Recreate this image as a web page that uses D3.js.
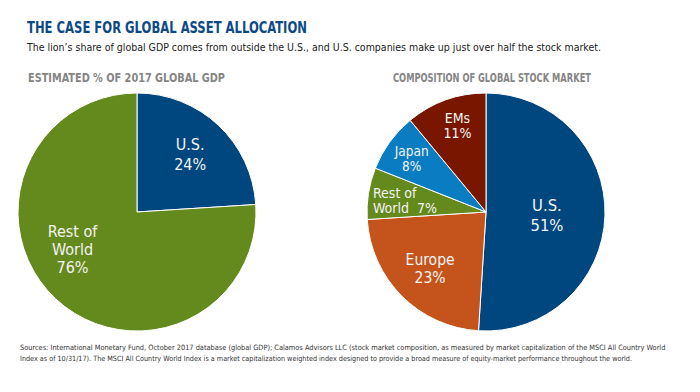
<!DOCTYPE html>
<html><head><meta charset="utf-8">
<script src="https://cdn.jsdelivr.net/npm/d3@7"></script>
<style>
body{margin:0;background:#fff;}
svg{display:block;}
</style></head>
<body><svg id="c" width="700" height="392"></svg>
<script>
const gdpCategories = ["U.S.", "Rest of World"];
const gdpValues = [24, 76];
const gdpLabels = [["U.S.", "24%"], ["Rest of", "World", "76%"]];

const stockCategories = ["U.S.", "Europe", "Rest of World", "Japan", "EMs"];
const stockValues = [51, 23, 7, 8, 11];
const stockLabels = [["U.S.", "51%"], ["Europe", "23%"], ["Rest of", "World  7%"], ["Japan", "8%"], ["EMs", "11%"]];

const colorMap = {
  "U.S.": "#00467f",
  "Rest of World": "#64891c",
  "Europe": "#c4541b",
  "Japan": "#0a7dc2",
  "EMs": "#791600"
};

const svg = d3.select("#c");
const cond = "'Liberation Sans Narrow','DejaVu Sans Condensed',sans-serif";

// fit a text to a target width by scaling its font size
function fitText(sel, target) {
  const n = sel.node();
  const fs = parseFloat(sel.attr("font-size"));
  const w = n.getComputedTextLength();
  if (w > 0) sel.attr("font-size", (fs * target / w).toFixed(2));
  return sel;
}

svg.append("text").attr("x", 27).attr("y", 33)
  .attr("font-family", cond).attr("font-weight", "bold").attr("font-size", 16.5)
  .attr("fill", "#0d4a85").attr("textLength", 280).attr("lengthAdjust", "spacingAndGlyphs")
  .text("THE CASE FOR GLOBAL ASSET ALLOCATION");

fitText(svg.append("text").attr("x", 27).attr("y", 51)
  .attr("font-family", cond).attr("font-size", 13)
  .attr("fill", "#222")
  .text("The lion\u2019s share of global GDP comes from outside the U.S., and U.S. companies make up just over half the stock market."), 574);

svg.append("text").attr("x", 28).attr("y", 82)
  .attr("font-family", cond).attr("font-weight", "bold").attr("font-size", 13)
  .attr("fill", "#858585").attr("textLength", 197).attr("lengthAdjust", "spacingAndGlyphs")
  .text("ESTIMATED % OF 2017 GLOBAL GDP");

svg.append("text").attr("x", 393).attr("y", 82)
  .attr("font-family", cond).attr("font-weight", "bold").attr("font-size", 13)
  .attr("fill", "#858585").attr("textLength", 198).attr("lengthAdjust", "spacingAndGlyphs")
  .text("COMPOSITION OF GLOBAL STOCK MARKET");

const foot1 = "Sources: International Monetary Fund, October 2017 database (global GDP); Calamos Advisors LLC (stock market composition, as measured by market capitalization of the MSCI All Country World";
const foot2 = "Index as of 10/31/17). The MSCI All Country World Index is a market capitalization weighted index designed to provide a broad measure of equity-market performance throughout the world.";
fitText(svg.append("text").attr("x", 20).attr("y", 350)
  .attr("font-family", cond).attr("font-size", 9).attr("fill", "#333").text(foot1), 646);
fitText(svg.append("text").attr("x", 20).attr("y", 361)
  .attr("font-family", cond).attr("font-size", 9).attr("fill", "#333").text(foot2), 612);

function drawPie(cx, cy, r, cats, vals, labels, labelPlace) {
  const data = cats.map((c, i) => ({name: c, value: vals[i], label: labels[i], place: labelPlace[i]}));
  const pie = d3.pie().sort(null).value(d => d.value);
  const arc = d3.arc().innerRadius(0).outerRadius(r);
  const g = svg.append("g").attr("transform", `translate(${cx},${cy})`);
  const arcs = pie(data);
  g.selectAll("path").data(arcs).join("path")
    .attr("d", arc).attr("fill", d => colorMap[d.data.name])
    .attr("stroke", "#fff").attr("stroke-width", 1);
  arcs.forEach(a => {
    const p = a.data.place;
    const mid = p.angle != null ? p.angle * Math.PI / 180 : (a.startAngle + a.endAngle) / 2;
    const rr = r * p.k;
    const x = Math.sin(mid) * rr, y = -Math.cos(mid) * rr;
    const lines = a.data.label;
    const fs = p.fs, lh = p.lh, cap = fs * 0.72;
    const top = y - ((lines.length - 1) * lh + cap) / 2;
    const x0 = p.anchor === "start" ? x - p.w / 2 : x;
    lines.forEach((ln, i) => {
      g.append("text")
        .attr("font-family", cond)
        .attr("font-size", fs).attr("fill", "#f4f4f4")
        .attr("text-anchor", p.anchor || "middle")
        .attr("x", x0).attr("y", top + cap + i * lh)
        .style("white-space", "pre")
        .text(ln);
    });
  });
}

drawPie(137, 212, 119, gdpCategories, gdpValues, gdpLabels,
  [{angle: 42.6, k: 0.66, fs: 16, lh: 20}, {angle: 239.8, k: 0.627, fs: 16, lh: 18}]);

drawPie(486, 212, 119, stockCategories, stockValues, stockLabels,
  [{angle: 92.8, k: 0.513, fs: 16.5, lh: 20},
   {angle: 224.7, k: 0.668, fs: 15.5, lh: 18},
   {angle: 277.8, k: 0.70, fs: 14, lh: 15, anchor: "start", w: 61},
   {angle: 305.5, k: 0.767, fs: 13.5, lh: 15},
   {angle: 341.7, k: 0.763, fs: 14, lh: 15}]);
</script>
</body></html>
